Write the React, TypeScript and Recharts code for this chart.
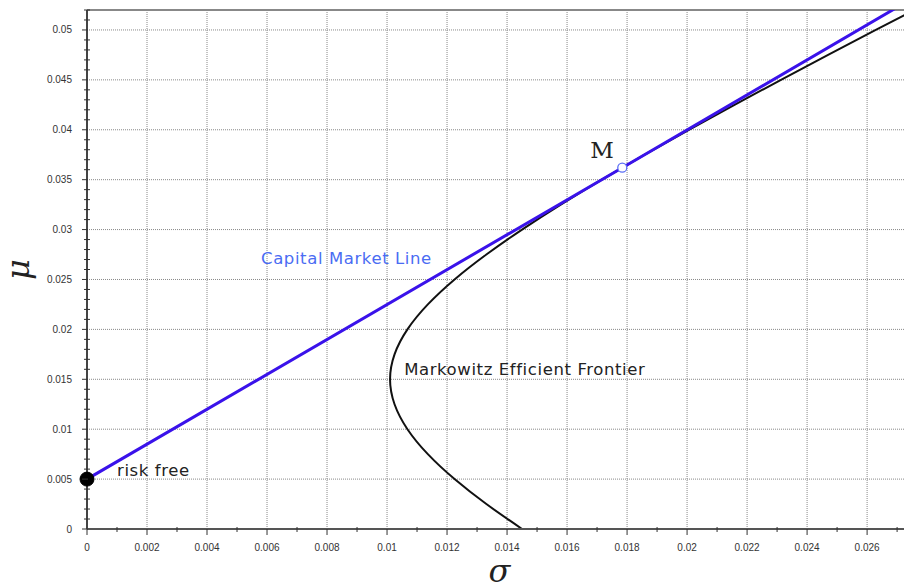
import {
    ComposedChart,
    Line,
    XAxis,
    YAxis,
    CartesianGrid,
    ReferenceDot,
    ReferenceLine,
} from "recharts";

// efficient frontier (sigma, mu)
const frontierSigma = [
    0.0145, 0.01331, 0.01225, 0.01136, 0.01068, 0.01025, 0.0101, 0.01025,
    0.01068, 0.01136, 0.01225, 0.01331, 0.0145, 0.01579, 0.01716, 0.01859,
    0.02006, 0.02158, 0.02313, 0.0247, 0.02629, 0.0279,
];
const frontierMu = [
    0, 0.0025, 0.005, 0.0075, 0.01, 0.0125, 0.015, 0.0175, 0.02, 0.0225, 0.025,
    0.0275, 0.03, 0.0325, 0.035, 0.0375, 0.04, 0.0425, 0.045, 0.0475, 0.05,
    0.0525,
];

// capital market line: risk free -> M -> past the top
const cmlSigma = [0, 0.01784, 0.0285];
const cmlMu = [0.005, 0.0362, 0.0549];

const riskFree = { s: 0, m: 0.005 };
const market = { s: 0.01784, m: 0.0362 };

const xMajor = [
    0, 0.002, 0.004, 0.006, 0.008, 0.01, 0.012, 0.014, 0.016, 0.018, 0.02,
    0.022, 0.024, 0.026,
];
const yMajor = [
    0, 0.005, 0.01, 0.015, 0.02, 0.025, 0.03, 0.035, 0.04, 0.045, 0.05,
];
const xTicks = Array.from({ length: 28 }, (_, i) => i * 0.001);
const yTicks = Array.from({ length: 53 }, (_, i) => i * 0.001);

const frontierData = frontierSigma.map((s, i) => ({ s, m: frontierMu[i] }));
const cmlData = cmlSigma.map((s, i) => ({ s, m: cmlMu[i] }));

const isMajor = (list: number[], v: number) =>
    list.some((t) => Math.abs(t - v) < 1e-9);
const fmt = (v: number) => String(Number(v.toFixed(4)));

const tickFont = "'Liberation Sans', Arial, sans-serif";
const labelFont = "'DejaVu Sans', sans-serif";

const YTick = (props: any) => {
    const { x, y, payload } = props;
    const major = isMajor(yMajor, payload.value);
    return (
        <g>
            <line
                x1={x - (major ? 5 : 3)}
                x2={x + (major ? 1 : 3)}
                y1={y}
                y2={y}
                stroke="#333"
            />
            {major && (
                <text
                    x={x - 15}
                    y={y + 3.5}
                    textAnchor="end"
                    fontSize={10}
                    fill="#333"
                    fontFamily={tickFont}
                >
                    {fmt(payload.value)}
                </text>
            )}
        </g>
    );
};

const XTick = (props: any) => {
    const { x, y, payload } = props;
    const major = isMajor(xMajor, payload.value);
    return (
        <g>
            <line
                x1={x}
                x2={x}
                y1={y - (major ? 0 : 2)}
                y2={y + (major ? 6 : 3)}
                stroke="#333"
            />
            {major && (
                <text
                    x={x}
                    y={y + 22}
                    textAnchor="middle"
                    fontSize={10}
                    fill="#333"
                    fontFamily={tickFont}
                >
                    {fmt(payload.value)}
                </text>
            )}
        </g>
    );
};

const textLabel =
    (text: string, color: string, size: number, family: string, spacing = 0) =>
    (props: any) => {
        const { viewBox } = props;
        return (
            <text
                x={viewBox.x}
                y={viewBox.y}
                fontSize={size}
                fill={color}
                fontFamily={family}
                letterSpacing={spacing}
            >
                {text}
            </text>
        );
    };

export default function App() {
    return (
        <div style={{ position: "absolute", left: 0, top: 0, background: "#fff" }}>
            <ComposedChart
                width={904}
                height={582}
                margin={{ top: 10, right: 0, left: 0, bottom: 0 }}
            >
                <CartesianGrid
                    stroke="#888"
                    strokeDasharray="1 1"
                    horizontalValues={yMajor}
                    verticalValues={xMajor}
                />
                <XAxis
                    type="number"
                    dataKey="s"
                    domain={[0, 0.02723]}
                    allowDataOverflow
                    ticks={xTicks}
                    interval={0}
                    tickSize={0}
                    tickMargin={0}
                    tickLine={false}
                    tick={<XTick />}
                    height={53}
                    axisLine={{ stroke: "#555", strokeWidth: 2 }}
                    label={{
                        content: (p: any) => (
                            <text
                                x={p.viewBox.x + p.viewBox.width / 2 + 4}
                                y={p.viewBox.y + 53}
                                textAnchor="middle"
                                fontSize={32}
                                fontStyle="italic"
                                fill="#222"
                                fontFamily="'DejaVu Serif', serif"
                            >
                                σ
                            </text>
                        ),
                    }}
                />
                <YAxis
                    type="number"
                    dataKey="m"
                    domain={[0, 0.052]}
                    allowDataOverflow
                    ticks={yTicks}
                    interval={0}
                    tickSize={0}
                    tickMargin={0}
                    tickLine={false}
                    tick={<YTick />}
                    width={87}
                    axisLine={{ stroke: "#444", strokeWidth: 2 }}
                    label={{
                        content: (p: any) => {
                            const cx = 29;
                            const cy = p.viewBox.y + p.viewBox.height / 2;
                            return (
                                <text
                                    x={cx}
                                    y={cy}
                                    transform={`rotate(-90 ${cx} ${cy})`}
                                    textAnchor="middle"
                                    fontSize={32}
                                    fontStyle="italic"
                                    fill="#222"
                                    fontFamily="'DejaVu Serif', serif"
                                >
                                    μ
                                </text>
                            );
                        },
                    }}
                />
                <ReferenceLine y={0.052} stroke="#888" strokeWidth={2} />
                <Line
                    data={frontierData}
                    dataKey="m"
                    type="natural"
                    stroke="#111"
                    strokeWidth={2}
                    dot={false}
                    activeDot={false}
                    isAnimationActive={false}
                />
                <Line
                    data={cmlData}
                    dataKey="m"
                    type="linear"
                    stroke="#3a12ea"
                    strokeWidth={3}
                    dot={false}
                    activeDot={false}
                    isAnimationActive={false}
                />
                <ReferenceDot
                    x={riskFree.s}
                    y={riskFree.m}
                    r={7}
                    fill="#000"
                    stroke="#000"
                    ifOverflow="visible"
                />
                <ReferenceDot
                    x={market.s}
                    y={market.m}
                    r={4.5}
                    fill="#fff"
                    stroke="#5b6ff5"
                    strokeWidth={1.3}
                    ifOverflow="visible"
                />
                <ReferenceDot
                    x={0.0058}
                    y={0.0266}
                    r={0}
                    ifOverflow="visible"
                    label={{ content: textLabel("Capital Market Line", "#4a6cf3", 16.5, labelFont, 0.6) }}
                />
                <ReferenceDot
                    x={0.01057}
                    y={0.01543}
                    r={0}
                    ifOverflow="visible"
                    label={{ content: textLabel("Markowitz Efficient Frontier", "#222", 16.5, labelFont, 0.6) }}
                />
                <ReferenceDot
                    x={0.001}
                    y={0.0053}
                    r={0}
                    ifOverflow="visible"
                    label={{ content: textLabel("risk free", "#222", 16.5, labelFont, 0.6) }}
                />
                <ReferenceDot
                    x={0.01677}
                    y={0.03717}
                    r={0}
                    ifOverflow="visible"
                    label={{ content: textLabel("M", "#222", 23, "'DejaVu Serif', 'Liberation Serif', serif") }}
                />
            </ComposedChart>
        </div>
    );
}
